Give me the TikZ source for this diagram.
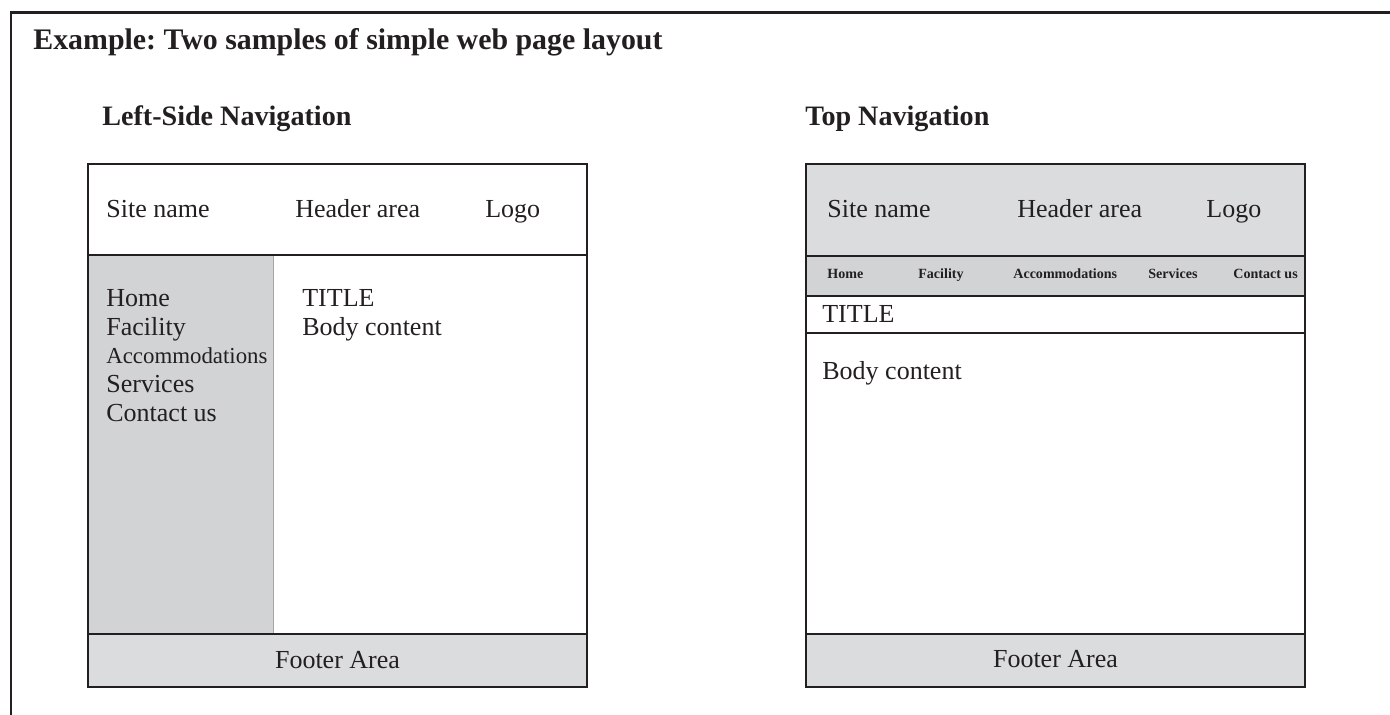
\documentclass[tikz,border=0pt]{standalone}
\usepackage{fontspec}
\setmainfont{Liberation Serif}
\usepackage{xcolor}
\usepackage{tikz}
\usetikzlibrary{positioning}
\frenchspacing

\definecolor{ink}{RGB}{35,31,32}
\definecolor{hdgray}{RGB}{219,220,222}
\definecolor{navgray}{RGB}{209,211,213}

\begin{document}
\begin{tikzpicture}[
  x=0.02cm, y=-0.02cm,
  txt/.style={inner sep=0pt, anchor=base west, text=ink, font=\fontsize{14.8}{17}\selectfont},
  small/.style={txt, font=\fontsize{13}{15}\selectfont},
  head/.style={txt, font=\fontsize{16}{19}\selectfont\bfseries},
  navlbl/.style={txt, font=\fontsize{8}{10}\selectfont\bfseries},
  foot/.style={txt, anchor=base},
  box/.style={draw=ink, line width=1.4pt},
  sep/.style={draw=ink, line width=1.1pt}]
  \useasboundingbox (0,0) rectangle (1390,715);
  \draw[ink, line width=1.7pt] (11,715) -- (11,13) -- (1390,13);

  \node[head, font=\fontsize{17}{20}\selectfont\bfseries] (title) at (33,50) {Example: Two samples of simple web page layout};
  \node[head] (lefthead) at (102,126) {Left-Side Navigation};
  \node[head] (tophead) at (805,126) {Top Navigation};

  % left-side navigation page
  \fill[navgray] (88,255) rectangle (273,634);
  \draw[gray!70, line width=0.5pt] (273,255) -- (273,634);
  \fill[hdgray] (88,634) rectangle (587,687);
  \draw[sep] (88,255) -- (587,255);
  \draw[sep] (88,634) -- (587,634);
  \draw[box] (88,164) rectangle (587,687);

  \node[txt] (lsite) at (106,218) {Site name};
  \node[txt] (lheader) at (295,218) {Header area};
  \node[txt] (llogo) at (485,218) {Logo};
  \node[txt] (lhome) at (106,307) {Home};
  \node[txt] (lfac) at (106,336) {Facility};
  \node[small] (lacc) at (106,364) {Accommodations};
  \node[txt] (lserv) at (106,393) {Services};
  \node[txt] (lcont) at (106,422) {Contact us};
  \node[txt] (ltitle) at (302,307) {TITLE};
  \node[txt] (lbody) at (302,336) {Body content};
  \node[foot] (lfoot) at (337.5,669) {Footer Area};

  % top navigation page
  \fill[hdgray] (806,164) rectangle (1305,256);
  \fill[navgray] (806,256) rectangle (1305,296);
  \fill[hdgray] (806,634) rectangle (1305,687);
  \draw[sep] (806,256) -- (1305,256);
  \draw[sep] (806,296) -- (1305,296);
  \draw[sep] (806,333) -- (1305,333);
  \draw[sep] (806,634) -- (1305,634);
  \draw[box] (806,164) rectangle (1305,687);

  \node[txt] (tsite) at (827,218) {Site name};
  \node[txt] (theader) at (1017,218) {Header area};
  \node[txt] (tlogo) at (1206,218) {Logo};
  \node[navlbl] (thome) at (827,279) {Home};
  \node[navlbl] (tfac) at (918,279) {Facility};
  \node[navlbl] (tacc) at (1013,279) {Accommodations};
  \node[navlbl] (tserv) at (1148,279) {Services};
  \node[navlbl] (tcont) at (1233,279) {Contact us};
  \node[txt] (ttitle) at (822,323) {TITLE};
  \node[txt] (tbody) at (822,380) {Body content};
  \node[foot] (tfoot) at (1055.5,668) {Footer Area};
\end{tikzpicture}
\end{document}
